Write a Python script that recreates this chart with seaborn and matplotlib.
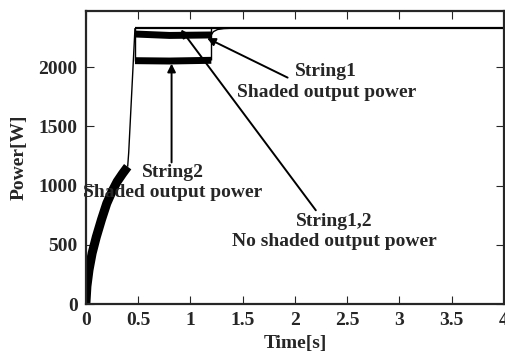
import matplotlib
matplotlib.use("Agg")
import matplotlib.pyplot as plt
import seaborn as sns
import pandas as pd

# ---- data ----
ramp_t = [0.0, 0.01, 0.03, 0.06, 0.10, 0.15, 0.20, 0.25, 0.30, 0.35, 0.40]
ramp_p = [0, 150, 288, 430, 567, 715, 850, 950, 1035, 1100, 1160]

rise_t = [0.40, 0.41, 0.47]
rise_p = [1160, 1280, 2330]

plateau_t = [0.47, 4.0]
plateau_p = [2330, 2330]

s1_band_t = [0.47, 0.8, 1.2]
s1_band_p = [2280, 2268, 2272]
s1_rec_t = [1.2, 1.22, 1.26, 1.32, 1.40, 1.50]
s1_rec_p = [2272, 2300, 2318, 2326, 2329, 2330]

s2_edge_t = [0.47, 0.47]
s2_edge_p = [2330, 2055]
s2_band_t = [0.47, 0.8, 1.2]
s2_band_p = [2055, 2052, 2058]
s2_up_t = [1.2, 1.2]
s2_up_p = [2058, 2330]

xticks = [0, 0.5, 1, 1.5, 2, 2.5, 3, 3.5, 4]
xticklabels = ["0", "0.5", "1", "1.5", "2", "2.5", "3", "3.5", "4"]
yticks = [0, 500, 1000, 1500, 2000]

# ---- style ----
sns.set_style("ticks")
plt.rcParams["font.family"] = ["Liberation Serif", "DejaVu Serif"]
plt.rcParams["font.weight"] = "bold"

fig = plt.figure(figsize=(5.05, 3.52), dpi=100)
ax = fig.add_axes([0.170, 0.136, 0.828, 0.833])

def seg(t, p, lw):
    df = pd.DataFrame({"t": t, "p": p})
    sns.lineplot(data=df, x="t", y="p", ax=ax, color="black", linewidth=lw,
                 sort=False, estimator=None, legend=False,
                 solid_capstyle="butt", solid_joinstyle="miter")

seg(ramp_t, ramp_p, 6.5)
seg(rise_t, rise_p, 1.0)
seg(plateau_t, plateau_p, 1.6)
seg(s1_band_t, s1_band_p, 5.0)
seg(s1_rec_t, s1_rec_p, 1.0)
seg(s2_edge_t, s2_edge_p, 1.0)
seg(s2_band_t, s2_band_p, 5.0)
seg(s2_up_t, s2_up_p, 1.0)

ax.set_xlim(0, 4)
ax.set_ylim(0, 2475)
ax.set_xticks(xticks)
ax.set_xticklabels(xticklabels)
ax.set_yticks(yticks)
ax.tick_params(direction="in", top=True, right=True, length=6, width=0.8,
               labelsize=14, pad=6)
for lab in ax.get_xticklabels() + ax.get_yticklabels():
    lab.set_fontweight("bold")
for s in ax.spines.values():
    s.set_linewidth(1.6)
    s.set_visible(True)

ax.set_xlabel("Time[s]", fontsize=14, fontweight="bold", labelpad=4)
ax.set_ylabel("Power[W]", fontsize=14, fontweight="bold", labelpad=8)

fs = 14
arrow = dict(arrowstyle="-|>", color="black", lw=1.4, mutation_scale=12,
             shrinkA=0, shrinkB=0)

ax.annotate("", xy=(1.16, 2245), xytext=(1.93, 1912), arrowprops=arrow)
ax.text(2.30, 1875, "String1\nShaded output power", ha="center", va="center",
        fontsize=fs, fontweight="bold", linespacing=1.25)

ax.annotate("", xy=(0.82, 2030), xytext=(0.82, 1196), arrowprops=arrow)
ax.text(0.83, 1025, "String2\nShaded output power", ha="center", va="center",
        fontsize=fs, fontweight="bold", linespacing=1.25)

ax.annotate("", xy=(0.91, 2318), xytext=(2.20, 792), arrowprops=arrow)
ax.text(2.38, 615, "String1,2\nNo shaded output power", ha="center", va="center",
        fontsize=fs, fontweight="bold", linespacing=1.25)

fig.savefig("out.png", dpi=100)
